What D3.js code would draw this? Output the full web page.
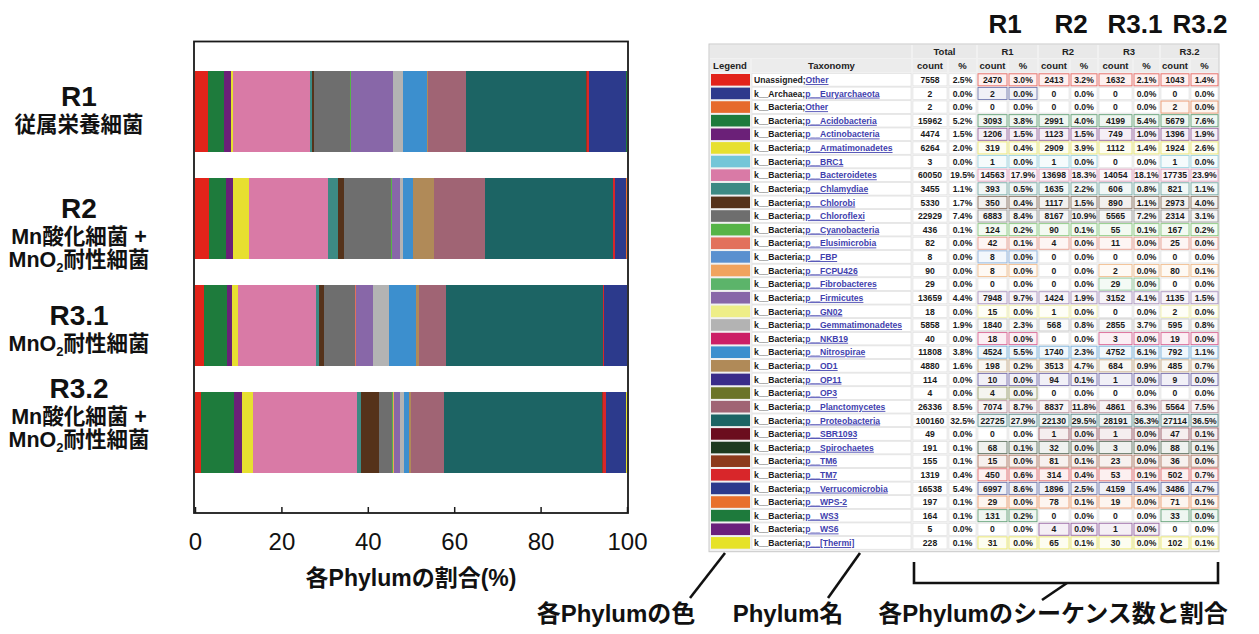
<!DOCTYPE html>
<html>
<head>
<meta charset="utf-8">
<script src="https://cdn.jsdelivr.net/npm/d3@7"></script>
<style>
  html, body { margin: 0; padding: 0; background: #ffffff; }
  svg { display: block; font-family: "Liberation Sans", "Noto Sans CJK JP", sans-serif; }
</style>
</head>
<body>
<svg id="chart" width="1259" height="634"></svg>
<script>
// ---- data -------------------------------------------------------------
const sampleKeys   = ["R1", "R2", "R3", "R3.2"];       // column headers in the table
const sampleLabels = ["R1", "R2", "R3.1", "R3.2"];     // bar / column titles

const taxPrefix = [
  "Unassigned;", "k__Archaea;", "k__Bacteria;", "k__Bacteria;", "k__Bacteria;",
  "k__Bacteria;", "k__Bacteria;", "k__Bacteria;", "k__Bacteria;", "k__Bacteria;",
  "k__Bacteria;", "k__Bacteria;", "k__Bacteria;", "k__Bacteria;", "k__Bacteria;",
  "k__Bacteria;", "k__Bacteria;", "k__Bacteria;", "k__Bacteria;", "k__Bacteria;",
  "k__Bacteria;", "k__Bacteria;", "k__Bacteria;", "k__Bacteria;", "k__Bacteria;",
  "k__Bacteria;", "k__Bacteria;", "k__Bacteria;", "k__Bacteria;", "k__Bacteria;",
  "k__Bacteria;", "k__Bacteria;", "k__Bacteria;", "k__Bacteria;", "k__Bacteria;"
];
const taxName = [
  "Other", "p__Euryarchaeota", "Other", "p__Acidobacteria", "p__Actinobacteria",
  "p__Armatimonadetes", "p__BRC1", "p__Bacteroidetes", "p__Chlamydiae", "p__Chlorobi",
  "p__Chloroflexi", "p__Cyanobacteria", "p__Elusimicrobia", "p__FBP", "p__FCPU426",
  "p__Fibrobacteres", "p__Firmicutes", "p__GN02", "p__Gemmatimonadetes", "p__NKB19",
  "p__Nitrospirae", "p__OD1", "p__OP11", "p__OP3", "p__Planctomycetes",
  "p__Proteobacteria", "p__SBR1093", "p__Spirochaetes", "p__TM6", "p__TM7",
  "p__Verrucomicrobia", "p__WPS-2", "p__WS3", "p__WS6", "p__[Thermi]"
];
const taxColor = [
  "#e2231a", "#2e3a8c", "#e66a2c", "#1e7b3c", "#6b2078",
  "#e7e030", "#74c6d8", "#d97aa6", "#3d8a84", "#55321a",
  "#6e6e6e", "#56b447", "#e2715c", "#5a90cf", "#f0a35e",
  "#5cb46a", "#8867a8", "#eeee88", "#b3b3b3", "#cc1f66",
  "#3c8fce", "#b08a58", "#3a2c8a", "#6b7428", "#a06474",
  "#1c6464", "#6b0d1e", "#1d3a1f", "#8c3a1c", "#d8262a",
  "#2c3a8c", "#e8702c", "#1e7a3c", "#6a1f7c", "#e6e228"
];
const countR1 = [
  2470, 2, 0, 3093, 1206, 319, 1, 14563, 393, 350,
  6883, 124, 42, 8, 8, 0, 7948, 15, 1840, 18,
  4524, 198, 10, 4, 7074, 22725, 0, 68, 15, 450,
  6997, 29, 131, 0, 31
];
const countR2 = [
  2413, 0, 0, 2991, 1123, 2909, 1, 13698, 1635, 1117,
  8167, 90, 4, 0, 0, 0, 1424, 1, 568, 0,
  1740, 3513, 94, 0, 8837, 22130, 1, 32, 81, 314,
  1896, 78, 0, 4, 65
];
const countR3 = [
  1632, 0, 0, 4199, 749, 1112, 0, 14054, 606, 890,
  5565, 55, 11, 0, 2, 29, 3152, 0, 2855, 3,
  4752, 684, 1, 0, 4861, 28191, 1, 3, 23, 53,
  4159, 19, 0, 1, 30
];
const countR32 = [
  1043, 0, 2, 5679, 1396, 1924, 1, 17735, 821, 2973,
  2314, 167, 25, 0, 80, 0, 1135, 2, 595, 19,
  792, 485, 9, 0, 5564, 27114, 47, 88, 36, 502,
  3486, 71, 33, 0, 102
];
const xTicks = [0, 20, 40, 60, 80, 100];

// ---- derived ----------------------------------------------------------
const sampleCounts = [countR1, countR2, countR3, countR32];
const countTotal = taxName.map((_, i) => d3.sum(sampleCounts, c => c[i]));
const taxKeys = taxName.map((n, i) => taxPrefix[i] + n);
const colorOf = d3.scaleOrdinal().domain(taxKeys).range(taxColor);

const svg = d3.select("#chart");

// ---- stacked percentage bars -----------------------------------------
const x = d3.scaleLinear().domain([0, 100]).range([195, 627]);
const y = d3.scaleBand().domain(sampleLabels).range([58, 486])
  .paddingInner(0.243).paddingOuter(0.1215);

const barRows = sampleCounts.map((c, s) => {
  const tot = d3.sum(c);
  const row = { sample: sampleLabels[s] };
  taxKeys.forEach((k, i) => { row[k] = c[i] / tot * 100; });
  return row;
});
const layers = d3.stack().keys(taxKeys)(barRows);

svg.append("g").selectAll("g").data(layers).join("g")
  .attr("fill", d => colorOf(d.key))
  .selectAll("rect").data(d => d).join("rect")
  .attr("x", d => x(d[0]))
  .attr("y", d => y(d.data.sample))
  .attr("width", d => Math.max(0, x(d[1]) - x(d[0])))
  .attr("height", y.bandwidth())
  .attr("shape-rendering", "crispEdges");

// frame and axis
svg.append("rect")
  .attr("x", 194).attr("y", 41.5).attr("width", 434).attr("height", 471.5)
  .attr("fill", "none").attr("stroke", "#1a1a1a").attr("stroke-width", 1.8);

const xAxis = svg.append("g")
  .attr("transform", "translate(0,513)")
  .call(d3.axisBottom(x).tickValues(xTicks).tickSizeInner(-6).tickSizeOuter(0).tickPadding(20));
xAxis.select(".domain").remove();
xAxis.selectAll("line").attr("stroke", "#1a1a1a").attr("stroke-width", 1.5);
xAxis.selectAll("text")
  .attr("font-size", 24).attr("fill", "#111")
  .attr("font-family", "'Liberation Sans', sans-serif");

svg.append("text")
  .attr("x", 411).attr("y", 586).attr("text-anchor", "middle")
  .attr("font-size", 23).attr("font-weight", "bold").attr("fill", "#111")
  .text("各Phylumの割合(%)");

// category captions left of the bars
const captionLines = {
  "R1":   [["R1"], ["従属栄養細菌"]],
  "R2":   [["R2"], ["Mn酸化細菌 +"], ["MnO", "2", "耐性細菌"]],
  "R3.1": [["R3.1"], ["MnO", "2", "耐性細菌"]],
  "R3.2": [["R3.2"], ["Mn酸化細菌 +"], ["MnO", "2", "耐性細菌"]]
};
const captionTop = { "R1": 106, "R2": 218, "R3.1": 325, "R3.2": 398 };
const captionGap = [0, 26, 49];

sampleLabels.forEach(lab => {
  const g = svg.append("g");
  captionLines[lab].forEach((parts, li) => {
    const t = g.append("text")
      .attr("x", 79).attr("y", captionTop[lab] + captionGap[li])
      .attr("text-anchor", "middle").attr("fill", "#111");
    if (li === 0) {
      t.attr("font-size", 28).attr("font-weight", "bold").text(parts[0]);
    } else {
      t.attr("font-size", 21.5).attr("font-weight", "bold");
      if (parts.length === 1) {
        t.text(parts[0]);
      } else {
        t.append("tspan").text(parts[0]);
        t.append("tspan").attr("font-size", 13).attr("dy", 5).text(parts[1]);
        t.append("tspan").attr("dy", -5).text(parts[2]);
      }
    }
  });
});

// ---- table ------------------------------------------------------------
const colEdge = [709, 751, 912, 948, 977, 1008, 1038, 1070, 1098, 1133, 1160, 1190, 1219];
const tTop = 44, h1 = 15, h2 = 14, rowH = 13.62;
const bodyTop = tTop + h1 + h2;
const tBottom = bodyTop + rowH * taxName.length + 2;

const table = svg.append("g").attr("font-family", "'Liberation Sans', Arial, sans-serif");
table.append("rect")
  .attr("x", colEdge[0]).attr("y", tTop)
  .attr("width", colEdge[12] - colEdge[0]).attr("height", tBottom - tTop)
  .attr("fill", "#f1f1f1").attr("stroke", "#c9c9c9").attr("stroke-width", 1);

// header row 1: group titles
const groupTitles = ["Total"].concat(sampleKeys);
groupTitles.forEach((t, k) => {
  const x0 = colEdge[2 + 2 * k], x1 = colEdge[4 + 2 * k];
  table.append("rect").attr("x", x0 + 1).attr("y", tTop + 1)
    .attr("width", x1 - x0 - 2).attr("height", h1 - 2).attr("fill", "#e9e9e9");
  table.append("text").attr("x", (x0 + x1) / 2).attr("y", tTop + 11)
    .attr("text-anchor", "middle").attr("font-size", 9.5).attr("font-weight", "bold")
    .attr("fill", "#222").text(t);
});
table.append("rect").attr("x", colEdge[0] + 1).attr("y", tTop + 1)
  .attr("width", colEdge[2] - colEdge[0] - 2).attr("height", h1 - 2).attr("fill", "#e9e9e9");

// header row 2: column titles
const subTitles = ["Legend", "Taxonomy"];
groupTitles.forEach(() => subTitles.push("count", "%"));
subTitles.forEach((t, c) => {
  const x0 = colEdge[c], x1 = colEdge[c + 1];
  table.append("rect").attr("x", x0 + 1).attr("y", tTop + h1)
    .attr("width", x1 - x0 - 2).attr("height", h2 - 1).attr("fill", "#ececec");
  table.append("text").attr("x", (x0 + x1) / 2).attr("y", tTop + h1 + 10)
    .attr("text-anchor", "middle").attr("font-size", 9.5).attr("font-weight", "bold")
    .attr("fill", "#222").text(t);
});

// body rows
const allCounts = [countTotal].concat(sampleCounts);
const allTotals = allCounts.map(c => d3.sum(c));
const pct = (v, tot) => (v / tot * 100).toFixed(1) + "%";

const rows = table.selectAll("g.row").data(taxKeys).join("g")
  .attr("class", "row")
  .attr("transform", (d, i) => `translate(0,${bodyTop + i * rowH})`);

// legend swatch
rows.append("rect")
  .attr("x", colEdge[0] + 2).attr("y", 1)
  .attr("width", colEdge[1] - colEdge[0] - 3).attr("height", rowH - 2)
  .attr("fill", d => colorOf(d));

// taxonomy cell
rows.append("rect")
  .attr("x", colEdge[1] + 1).attr("y", 0.5)
  .attr("width", colEdge[2] - colEdge[1] - 2).attr("height", rowH - 1)
  .attr("fill", "#ffffff").attr("stroke", "#dcdcdc").attr("stroke-width", 0.6);
const taxText = rows.append("text")
  .attr("x", colEdge[1] + 3).attr("y", rowH / 2 + 3.2)
  .attr("font-size", 8.6).attr("font-weight", "bold");
taxText.append("tspan").attr("fill", "#1a1a1a").text((d, i) => taxPrefix[i]);
taxText.append("tspan").attr("fill", "#3f3fae")
  .style("text-decoration", "underline")
  .text((d, i) => taxName[i]);

// count / percent cells
rows.each(function (key, i) {
  const r = d3.select(this);
  allCounts.forEach((c, k) => {
    const v = c[i];
    const cells = [String(v), pct(v, allTotals[k])];
    cells.forEach((txt, j) => {
      const col = 2 + 2 * k + j;
      const x0 = colEdge[col], x1 = colEdge[col + 1];
      const boxed = k > 0 && v > 0;
      r.append("rect")
        .attr("x", x0 + 1).attr("y", 0.8)
        .attr("width", x1 - x0 - 2).attr("height", rowH - 1.6)
        .attr("fill", boxed ? d3.interpolateRgb("#ffffff", colorOf(key))(0.07) : "#ffffff")
        .attr("stroke", boxed ? colorOf(key) : "#e0e0e0")
        .attr("stroke-opacity", boxed ? 0.65 : 1)
        .attr("stroke-width", boxed ? 0.9 : 0.6);
      r.append("text")
        .attr("x", (x0 + x1) / 2).attr("y", rowH / 2 + 3.2)
        .attr("text-anchor", "middle").attr("font-size", 8.6).attr("font-weight", "bold")
        .attr("fill", "#1a1a1a").text(txt);
    });
  });
});

// column titles above the table
const titleX = [1005, 1071, 1135, 1200];
sampleLabels.forEach((t, k) => {
  svg.append("text").attr("x", titleX[k]).attr("y", 33)
    .attr("text-anchor", "middle").attr("font-size", 26).attr("font-weight", "bold")
    .attr("fill", "#111").text(t);
});

// ---- annotations under the table -------------------------------------
const ann = svg.append("g").attr("stroke", "#111").attr("stroke-width", 2.6)
  .attr("fill", "none").attr("stroke-linecap", "butt");
ann.append("line").attr("x1", 725).attr("y1", 553).attr("x2", 690).attr("y2", 598);
ann.append("line").attr("x1", 860).attr("y1", 553).attr("x2", 828).attr("y2", 598);
ann.append("path").attr("d", "M914,562V583H1218V562");
ann.append("line").attr("x1", 1067).attr("y1", 583).attr("x2", 1042).attr("y2", 600);

const notes = [
  { t: "各Phylumの色", x: 616 },
  { t: "Phylum名", x: 788 },
  { t: "各Phylumのシーケンス数と割合", x: 1053 }
];
svg.selectAll("text.note").data(notes).join("text")
  .attr("class", "note")
  .attr("x", d => d.x).attr("y", 622).attr("text-anchor", "middle")
  .attr("font-size", 24).attr("font-weight", "bold").attr("fill", "#111")
  .text(d => d.t);
</script>
</body>
</html>
